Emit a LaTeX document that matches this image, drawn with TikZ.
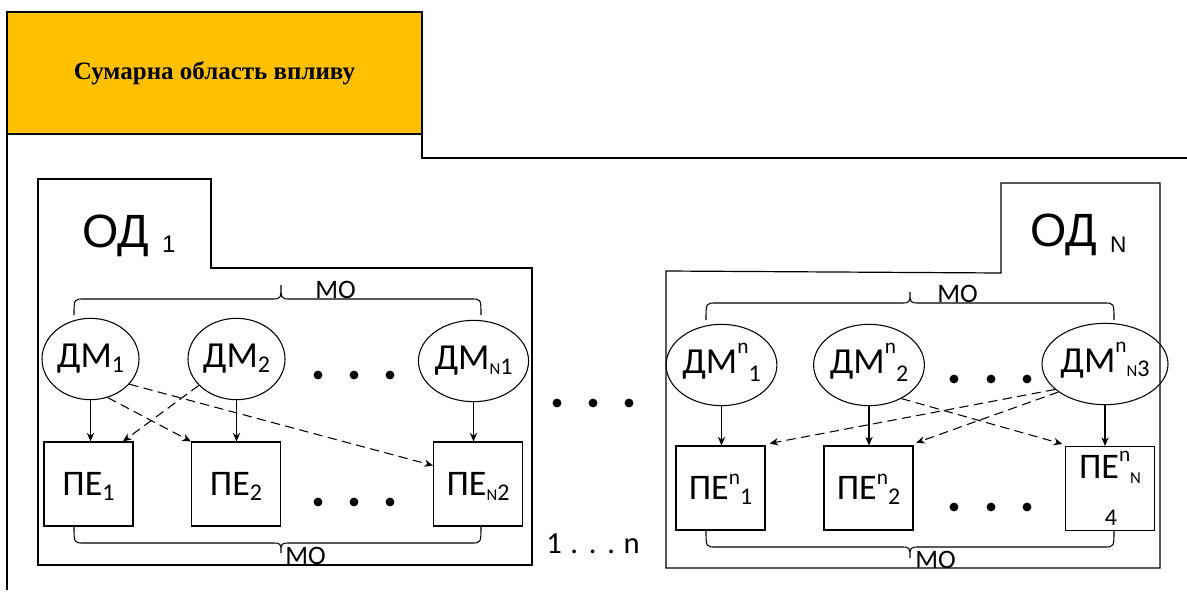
\documentclass[tikz,border=0pt]{standalone}
\usepackage{fontspec}
\setmainfont{Carlito}
\newfontfamily\titlefont{Liberation Serif}
\newfontfamily\odfont{Liberation Sans}
\usetikzlibrary{arrows.meta,shapes.geometric}

\definecolor{headgold}{HTML}{FFC000}

% raised and lowered indices in the Word manner (set one after another)
\newcommand\supn[2][15pt]{\raisebox{#1}{\fontsize{16}{16}\selectfont #2}}
\newcommand\subd[2][-3.5pt]{\raisebox{#1}{\fontsize{18}{18}\selectfont #2}}
\newcommand\smallN{{\fontsize{12.5}{12.5}\selectfont N}}

% curly brace: ends x #1,#2, tip x #3, end y #4, line y #5, tip y #6
\newcommand\curlybrace[6]{%
  \draw[bracepath] (#1,#4) .. controls (#1,#5) .. ({#1+10},#5) -- ({#3-10},#5)
    .. controls (#3,#5) .. (#3,#6) .. controls (#3,#5) .. ({#3+10},#5)
    -- ({#2-10},#5) .. controls (#2,#5) .. (#2,#4);}

\tikzset{
  frameline/.style={line width=1pt},
  odline/.style={line width=0.9pt},
  dmnode/.style={ellipse, draw, line width=0.8pt, minimum width=72.75pt,
    minimum height=61pt, inner sep=0pt, font=\fontsize{27.5}{27.5}\selectfont,
    text height=13pt, text depth=0pt},
  peshape/.style={rectangle, draw, line width=0.8pt, minimum width=66.75pt,
    minimum height=63pt, inner sep=0pt, font=\fontsize{27}{27}\selectfont},
  penode/.style={peshape, text height=17pt, text depth=0pt},
  solidarrow/.style={line width=0.8pt, -{Stealth[length=6.5pt,width=5.5pt]}},
  dasharrow/.style={solidarrow, dash pattern=on 7pt off 4pt},
  bracepath/.style={line width=0.8pt},
  molabel/.style={font=\fontsize{20}{20}\selectfont, inner sep=0pt, anchor=base west},
  odlabel/.style={font=\odfont\fontsize{35}{35}\selectfont, inner sep=0pt, anchor=base west},
  dotrow/.style={fill=black},
}

\begin{document}
\begin{tikzpicture}[x=0.75pt,y=-0.75pt]
\useasboundingbox (0,0) rectangle (1187,592);

% heading block and outer frame
\fill[headgold] (7,12) rectangle (422,134);
\draw[frameline] (7,134) -- (422,134);
\draw[frameline] (7,590) -- (7,12) -- (422,12) -- (422,158) -- (1187,158);
\node[font=\titlefont\bfseries\fontsize{18.75}{18.75}\selectfont] (title) at (214.5,73) {Сумарна область впливу};

% first domain outline
\draw[odline] (38,179) -- (211,179) -- (211,268) -- (532,268) -- (532,565) -- (38,565) -- cycle;
\node[odlabel] (od1) at (82,247) {ОД \raisebox{-3.75pt}{\fontsize{18}{18}\selectfont 1}};

% last domain outline
\draw[odline] (666,271) -- (1001,273) -- (1001,183) -- (1160,183) -- (1160,568) -- (666,568) -- cycle;
\node[odlabel] (odN) at (1030,246) {ОД \raisebox{-5pt}{\fontsize{17}{17}\selectfont N}};

% first domain: managers and executors
\node[dmnode] (dm1)  at (90.5,359) {ДМ\subd{1}};
\node[dmnode] (dm2)  at (236.5,359) {ДМ\subd{2}};
\node[dmnode] (dmN1) at (473.5,361) {ДМ\subd{\smallN 1}};
\node[penode] (pe1)  at (88.5,484) {ПЕ\subd{1}};
\node[penode] (pe2)  at (236,484) {ПЕ\subd{2}};
\node[penode] (peN2) at (478,484) {ПЕ\subd{\smallN 2}};

\draw[solidarrow] (dm1.south) -- (dm1.south |- pe1.north);
\draw[solidarrow] (dm2.south) -- (dm2.south |- pe2.north);
\draw[solidarrow] (dmN1.south) -- (dmN1.south |- peN2.north);
\draw[dasharrow] (dm1.-66) -- (pe2.north west);
\draw[dasharrow] (dm2.215) -- ([xshift=-8pt]pe1.north east);
\draw[dasharrow] (dm1.-33) -- ([yshift=-18pt]peN2.north west);

\curlybrace{74}{481}{281}{315}{299}{285}
\curlybrace{74}{481}{281}{526}{543}{553}
\node[molabel] (mo1t) at (315,298) {МО};
\node[molabel] (mo1b) at (285,564) {МО};

\foreach \x in {318,354,390} {
  \fill[dotrow] (\x,375) circle[radius=3.3pt];
  \fill[dotrow] (\x,502) circle[radius=3.3pt];
}

% between the domains
\foreach \x in {557,593,629} \fill[dotrow] (\x,403) circle[radius=3.3pt];
\node[font=\fontsize{23}{23}\selectfont, inner sep=0pt, anchor=base west] (range) at (546,553)
  {1\hspace{6.5pt}.\hspace{8pt}.\hspace{8pt}.\hspace{6.5pt}n};

% last domain: managers and executors
\node[dmnode] (dmn1)  at (721.5,365) {ДМ\supn{n}\subd[-6pt]{1}};
\node[dmnode] (dmn2)  at (869,365) {ДМ\supn{n}\subd[-6pt]{2}};
\node[dmnode] (dmnN3) at (1105,364) {ДМ\supn{n}\subd[-3pt]{\smallN 3}};
\node[penode] (pen1)  at (720.5,488) {ПЕ\supn[11pt]{n}\subd{1}};
\node[penode] (pen2)  at (868.5,488) {ПЕ\supn[11pt]{n}\subd{2}};
\node[peshape, text height=15pt, text depth=30pt] (penN) at (1110,488.5) {ПЕ\supn[13pt]{n}\raisebox{-3.75pt}{\smallN}};
\node[font=\fontsize{18}{18}\selectfont, inner sep=0pt, anchor=base] (penN4) at (1111,525) {4};

\draw[solidarrow] (dmn1.south) -- (dmn1.south |- pen1.north);
\draw[solidarrow] (dmn2.south) -- (dmn2.south |- pen2.north);
\draw[solidarrow] (dmnN3.south) -- (dmnN3.south |- penN.north);
\draw[dasharrow] (dmnN3.207) -- ([xshift=3pt,yshift=1.5pt]pen1.north east);
\draw[dasharrow] (dmnN3.211) -- ([xshift=2pt,yshift=2pt]pen2.north east);
\draw[dasharrow] (dmn2.-46) -- ([xshift=-2pt,yshift=1.5pt]penN.north west);

\curlybrace{706}{1114}{910}{320}{303}{292}
\curlybrace{706}{1114}{910}{530}{547}{558}
\node[molabel] (mo2t) at (937,302) {МО};
\node[molabel] (mo2b) at (915,568) {МО};

\foreach \x in {954,991,1027} {
  \fill[dotrow] (\x,379) circle[radius=3.3pt];
  \fill[dotrow] (\x,507) circle[radius=3.3pt];
}
\end{tikzpicture}
\end{document}
